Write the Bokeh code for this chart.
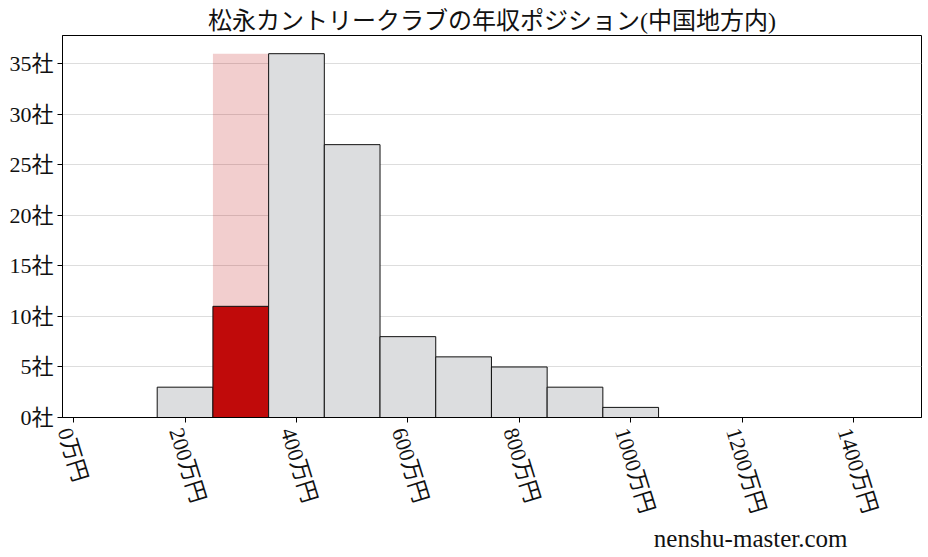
from bokeh.plotting import figure
from bokeh.models import Range1d, FixedTicker, Title, LinearAxis
from bokeh.embed import file_html
from bokeh.resources import INLINE

# data
title_text = "松永カントリークラブの年収ポジション(中国地方内)"
bin_centers = [200, 300, 400, 500, 600, 700, 800, 900, 1000]
counts = [3, 11, 36, 27, 8, 6, 5, 3, 1]
highlight_center = 300
bin_width = 100
x_ticks = [0, 200, 400, 600, 800, 1000, 1200, 1400]
x_tick_labels = ["0万円", "200万円", "400万円", "600万円", "800万円", "1000万円", "1200万円", "1400万円"]
y_ticks = [0, 5, 10, 15, 20, 25, 30, 35]
y_tick_labels = ["0社", "5社", "10社", "15社", "20社", "25社", "30社", "35社"]
watermark = "nenshu-master.com"

JP = "'Liberation Serif', 'Noto Sans CJK JP'"
LABEL_SHIFT = -16  # x-units; nudges rotated tick labels left like the reference

p = figure(width=928, height=557, output_backend="svg", toolbar_location=None,
           x_range=Range1d(-20, 1522), y_range=Range1d(0, 37.8),
           min_border_left=62, min_border_right=7, min_border_top=35, min_border_bottom=140)
p.background_fill_color = "white"
p.border_fill_color = "white"
p.outline_line_color = "black"
p.outline_line_width = 1

p.title.text = title_text
p.title.text_font = JP
p.title.text_font_size = "24px"
p.title.text_font_style = "normal"
p.title.align = "center"
p.title.text_color = "#111111"
p.title.standoff = 4

# highlight band
hmax = max(counts)
p.quad(left=[highlight_center - bin_width / 2], right=[highlight_center + bin_width / 2],
       bottom=[0], top=[hmax], fill_color="#c00a0a", fill_alpha=0.2, line_color=None)

colors = ["#c00a0a" if c == highlight_center else "#dcdddf" for c in bin_centers]
p.vbar(x=bin_centers, top=counts, width=bin_width, bottom=0,
       fill_color=colors, line_color="#111111", line_width=1)

# axes
p.xaxis.ticker = FixedTicker(ticks=x_ticks)
p.xaxis.major_label_overrides = {t: "" for t in x_ticks}
p.xaxis.major_label_text_font_size = "0px"
p.xaxis.major_label_standoff = 0
p.yaxis.ticker = FixedTicker(ticks=y_ticks)
p.yaxis.major_label_overrides = {t: l for t, l in zip(y_ticks, y_tick_labels)}
for ax in (p.xaxis, p.yaxis):
    ax.major_label_text_font = JP
    ax.major_label_text_color = "#111111"
    ax.axis_line_color = "black"
    ax.major_tick_line_color = "black"
    ax.major_tick_out = 5
    ax.major_tick_in = 0
    ax.minor_tick_line_color = None
p.yaxis.major_label_text_font_size = "22px"
p.yaxis.major_label_standoff = 4

shifted = [t + LABEL_SHIFT for t in x_ticks]
lab_axis = LinearAxis(ticker=FixedTicker(ticks=shifted),
                      major_label_overrides={s: l for s, l in zip(shifted, x_tick_labels)},
                      major_label_orientation=-1.27, major_label_standoff=6,
                      major_label_text_font=JP, major_label_text_font_size="22px",
                      major_label_text_color="#111111",
                      axis_line_color=None, major_tick_line_color=None,
                      minor_tick_line_color=None, major_tick_out=0, major_tick_in=0)
p.add_layout(lab_axis, "below")

p.xgrid.grid_line_color = None
p.ygrid.grid_line_color = "#dddddd"
p.ygrid.grid_line_width = 1

# watermark
p.add_layout(Title(text=watermark, text_font="Liberation Serif", text_font_size="25px",
                   text_font_style="normal", align="right", offset=74, standoff=0,
                   text_color="#111111"), "below")

open("out.html", "w").write(file_html(p, INLINE))
